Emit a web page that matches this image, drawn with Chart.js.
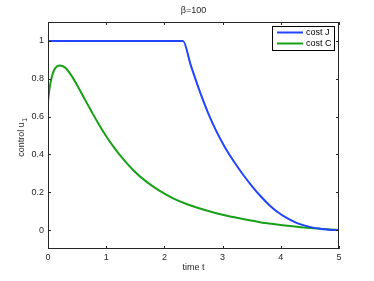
<!DOCTYPE html>
<html>
<head>
<meta charset="utf-8">
<script src="https://cdn.jsdelivr.net/npm/chart.js@4.4.0/dist/chart.umd.min.js"></script>
<style>
  html, body { margin: 0; padding: 0; background: #fff; }
  canvas { display: block; }
</style>
</head>
<body>
<canvas id="controlChart" width="374" height="281"></canvas>
<script>
const chartTitle = 'β=100';
const yLabel = 'control u';
const yLabelSub = '1';
const xTicks = [0, 1, 2, 3, 4, 5];
const yTicks = [0, 0.2, 0.4, 0.6, 0.8, 1];

// cost J
const timeJ = [0, 2.32, 2.45, 2.6, 2.75, 2.9, 3.05, 3.2, 3.35, 3.5, 3.65, 3.8, 3.95, 4.1, 4.25, 4.4, 4.55, 4.7, 4.85, 5];
const controlJ = [1, 1, 0.875, 0.74, 0.62, 0.518, 0.433, 0.36, 0.294, 0.234, 0.18, 0.133, 0.094, 0.064, 0.041, 0.025, 0.013, 0.006, 0.001, 0];

// cost C
const timeC = [0, 0.03, 0.07, 0.115, 0.2, 0.29, 0.4, 0.515, 0.63, 0.746, 0.86, 1.0, 1.146, 1.29, 1.46, 1.69, 1.92, 2.15, 2.38, 2.61, 2.8, 3.0, 3.29, 3.64, 3.87, 4.2, 4.5, 4.8, 5];
const controlC = [0.68, 0.756, 0.815, 0.851, 0.87, 0.86, 0.818, 0.758, 0.693, 0.628, 0.566, 0.496, 0.432, 0.376, 0.318, 0.256, 0.207, 0.168, 0.138, 0.114, 0.097, 0.081, 0.062, 0.042, 0.032, 0.02, 0.011, 0.004, 0];

const toPoints = (xs, ys) => xs.map((x, i) => ({ x: x, y: ys[i] }));

const fontFamily = "'Liberation Sans', Arial, sans-serif";
const ink = '#262626';
Chart.defaults.font.family = fontFamily;
Chart.defaults.font.size = 9;
Chart.defaults.color = ink;

// box, inward ticks, title, y label and legend drawn like a matlab figure
const matlabFrame = {
    id: 'matlabFrame',
    afterDraw(chart) {
        const ctx = chart.ctx;
        const a = chart.chartArea;
        const xs = chart.scales.x, ys = chart.scales.y;
        ctx.save();
        ctx.strokeStyle = ink;
        ctx.lineWidth = 1;
        ctx.strokeRect(a.left + 0.5, a.top + 0.5, a.right - a.left - 1, a.bottom - a.top - 1);
        ctx.beginPath();
        xTicks.forEach(v => {
            const px = Math.round(xs.getPixelForValue(v)) + 0.5;
            ctx.moveTo(px, a.bottom); ctx.lineTo(px, a.bottom - 3);
            ctx.moveTo(px, a.top); ctx.lineTo(px, a.top + 3);
        });
        yTicks.forEach(v => {
            const py = Math.round(ys.getPixelForValue(v)) + 0.5;
            ctx.moveTo(a.left, py); ctx.lineTo(a.left + 3, py);
            ctx.moveTo(a.right, py); ctx.lineTo(a.right - 3, py);
        });
        ctx.stroke();

        // title
        ctx.fillStyle = ink;
        ctx.font = '9px ' + fontFamily;
        ctx.textAlign = 'center';
        ctx.textBaseline = 'middle';
        ctx.fillText(chartTitle, (a.left + a.right) / 2, 11);

        // y label with subscript
        ctx.save();
        ctx.translate(22, (a.top + a.bottom) / 2 + 2);
        ctx.rotate(-Math.PI / 2);
        const w1 = ctx.measureText(yLabel).width;
        ctx.font = '7px ' + fontFamily;
        const w2 = ctx.measureText(yLabelSub).width;
        ctx.textAlign = 'left';
        ctx.font = '9px ' + fontFamily;
        ctx.fillText(yLabel, -(w1 + w2) / 2, 0);
        ctx.font = '7px ' + fontFamily;
        ctx.fillText(yLabelSub, -(w1 + w2) / 2 + w1 + 0.5, 3);
        ctx.restore();

        // legend
        const lx = 272, ly = 26, lw = 62, lh = 24;
        ctx.fillStyle = '#fff';
        ctx.fillRect(lx, ly, lw, lh);
        ctx.strokeStyle = '#000';
        ctx.strokeRect(lx + 0.5, ly + 0.5, lw, lh);
        ctx.font = '9px ' + fontFamily;
        ctx.textAlign = 'left';
        chart.data.datasets.forEach((ds, i) => {
            const y = ly + 6.5 + i * 11;
            ctx.strokeStyle = ds.borderColor;
            ctx.lineWidth = 2;
            ctx.beginPath();
            ctx.moveTo(lx + 5, y); ctx.lineTo(lx + 31, y);
            ctx.stroke();
            ctx.fillStyle = '#000';
            ctx.fillText(ds.label, lx + 34, y);
        });
        ctx.restore();
    }
};

new Chart(document.getElementById('controlChart'), {
    type: 'line',
    data: {
        datasets: [{
            label: 'cost J',
            data: toPoints(timeJ, controlJ),
            borderColor: '#2244ff',
            borderWidth: 2,
            pointRadius: 0,
            cubicInterpolationMode: 'monotone',
            fill: false
        }, {
            label: 'cost C',
            data: toPoints(timeC, controlC),
            borderColor: '#19a019',
            borderWidth: 2,
            pointRadius: 0,
            cubicInterpolationMode: 'monotone',
            fill: false
        }]
    },
    options: {
        responsive: false,
        animation: false,
        layout: { padding: { top: 22, right: 35, left: 0, bottom: 0 } },
        plugins: {
            legend: { display: false },
            tooltip: { enabled: false }
        },
        scales: {
            x: {
                type: 'linear',
                min: 0,
                max: 5,
                afterBuildTicks: s => { s.ticks = xTicks.map(v => ({ value: v })); },
                afterFit: s => { s.height = 32; },
                grid: { display: false, drawTicks: false, tickLength: 0 },
                border: { display: false },
                ticks: { padding: 3, maxRotation: 0, callback: v => String(v) },
                title: { display: true, text: 'time t', padding: { top: 0, bottom: 8 } }
            },
            y: {
                type: 'linear',
                min: -0.1,
                max: 1.1,
                afterBuildTicks: s => { s.ticks = yTicks.map(v => ({ value: v })); },
                afterFit: s => { s.width = 48; },
                grid: { display: false, drawTicks: false, tickLength: 0 },
                border: { display: false },
                ticks: { padding: 4, callback: v => String(v) }
            }
        }
    },
    plugins: [matlabFrame]
});
</script>
</body>
</html>
